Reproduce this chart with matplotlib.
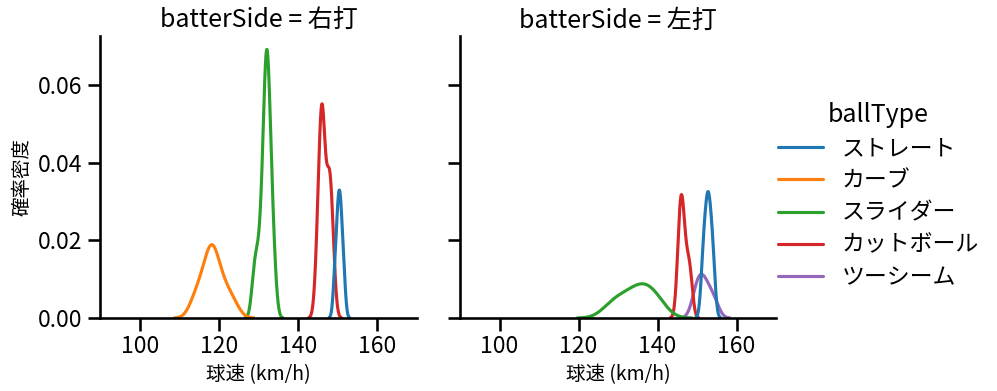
import matplotlib.pyplot as plt
import numpy as np
import pandas as pd
import seaborn as sns

# pitch speeds (km/h) per batter side and pitch type
sides = ['右打', '左打']
ball_types = ['ストレート', 'カーブ', 'スライダー', 'カットボール', 'ツーシーム']

r_straight = [149.3, 149.8, 150.2, 150.4, 150.6, 151.0, 151.5]
r_curve = [113.7, 114.8, 115.9, 116.9, 117.5, 118.0, 118.0, 118.3, 118.9, 119.4,
           120.1, 121.2, 122.3, 123.9]
r_slider = [128.8, 129.2, 129.9, 130.4, 130.9, 131.2, 131.4, 131.5, 131.8, 131.9, 132.0,
            132.0, 132.1, 132.2, 132.3, 132.4, 132.7, 132.8, 133.0, 133.2, 133.6, 134.0]
r_cutter = [144.7, 145.1, 145.4, 145.6, 145.8, 145.9, 146.0, 146.1, 146.2, 146.4,
            146.6, 146.9, 147.4, 147.7, 147.9, 148.0, 148.2, 148.5, 148.9]

l_straight = [151.4, 151.8, 152.2, 152.6, 152.8, 153.0, 153.4, 153.8, 154.2]
l_slider = [127.5, 129.5, 131.0, 132.7, 134.0, 135.2, 136.2, 137.1, 138.1, 139.4, 140.9]
l_cutter = [145.3, 145.6, 145.9, 146.1, 146.3, 146.6, 147.2, 147.9, 148.4]
l_twoseam = [149.5, 150.5, 151.0, 152.0, 153.0, 154.5]

groups = [
    ('右打', 'ストレート', r_straight),
    ('右打', 'カーブ', r_curve),
    ('右打', 'スライダー', r_slider),
    ('右打', 'カットボール', r_cutter),
    ('左打', 'ストレート', l_straight),
    ('左打', 'スライダー', l_slider),
    ('左打', 'カットボール', l_cutter),
    ('左打', 'ツーシーム', l_twoseam),
]
rows = [(side, bt, v) for side, bt, vals in groups for v in vals]
df = pd.DataFrame(rows, columns=['batterSide', 'ballType', 'speed'])

sns.set_theme(style='ticks', context='talk', palette='tab10')
plt.rcParams['font.family'] = ['Noto Sans CJK JP', 'DejaVu Sans']
for key in ['text.color', 'axes.labelcolor', 'axes.edgecolor', 'xtick.color', 'ytick.color']:
    plt.rcParams[key] = 'black'

g = sns.displot(data=df, x='speed', hue='ballType', col='batterSide', kind='kde',
                hue_order=ball_types, col_order=sides, height=3.9, aspect=0.8)
g.set_titles('batterSide = {col_name}')
g.set_axis_labels('球速 (km/h)', '確率密度', fontsize=14)
g.set(xlim=(90, 170))

fig = g.figure
fig.set_size_inches(9.97, 3.91)
ax1, ax2 = g.axes.flat
ax1.set_position([100 / 997, 73 / 391, 317 / 997, 282 / 391])
ax2.set_position([460 / 997, 73 / 391, 316 / 997, 282 / 391])

sns.move_legend(g, 'center left', bbox_to_anchor=(757 / 997, 0.5), frameon=False,
                labelspacing=0.4)

fig.savefig('out.png', dpi=100)
